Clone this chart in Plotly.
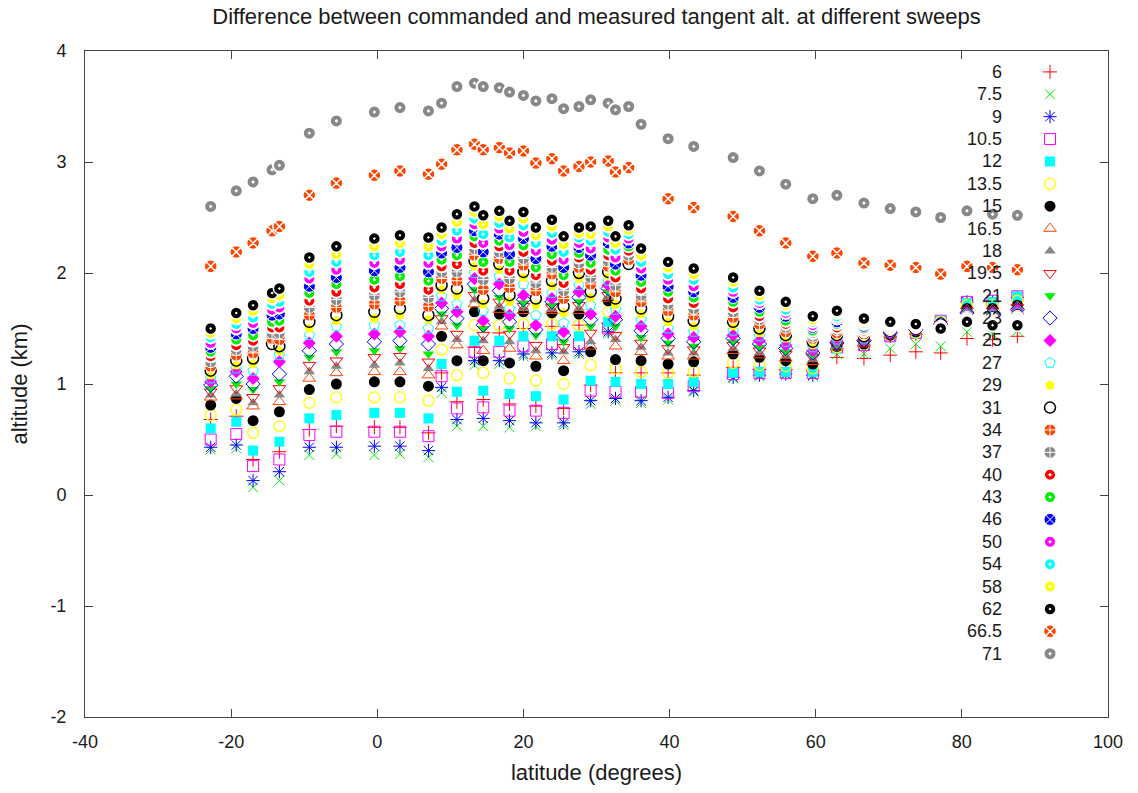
import plotly.graph_objects as go

lat = [-22.8, -19.3, -17.0, -14.4, -13.4, -9.3, -5.6, -0.4, 3.1, 7.0,
       8.8, 10.9, 13.3, 14.5, 16.7, 18.1, 20.0, 21.7, 23.9, 25.5,
       27.6, 29.2, 31.6, 32.6, 34.4, 36.1, 39.8, 43.3, 48.7, 52.3,
       55.9, 59.6, 62.9, 66.6, 70.2, 73.7, 77.1, 80.7, 84.2, 87.6]

x_tickvals = [-40, -20, 0, 20, 40, 60, 80, 100]
x_ticktext = ['-40', '-20', '0', '20', '40', '60', '80', '100']
y_tickvals = [-2, -1, 0, 1, 2, 3, 4]
y_ticktext = ['-2', '-1', '0', '1', '2', '3', '4']

N = None
s6 = [0.68,0.71,0.32,N,0.39,0.59,0.62,0.61,0.61,0.56,1.10,0.84,1.33,0.86,1.46,0.82,1.50,0.80,1.52,0.78,1.53,0.99,1.55,1.10,N,1.10,1.10,1.08,1.15,1.13,1.13,1.12,1.24,1.23,1.26,1.29,1.28,1.41,1.40,1.43]
s7_5 = [0.41,0.42,0.07,N,0.13,0.36,0.37,0.36,0.37,0.34,0.92,0.62,1.17,0.62,1.18,0.61,1.25,0.62,1.26,0.63,1.27,0.82,1.45,0.85,N,0.83,0.86,0.93,1.05,1.07,1.08,1.07,1.27,1.27,1.32,1.36,1.34,1.47,1.45,1.48]
s9 = [0.43,0.45,0.13,N,0.21,0.43,0.43,0.44,0.44,0.40,0.97,0.68,1.21,0.69,1.21,0.67,1.27,0.65,1.28,0.65,1.29,0.85,1.47,0.87,N,0.85,0.88,0.94,1.06,1.08,1.09,1.08,1.32,1.35,1.43,1.45,1.56,1.74,1.74,1.78]
s10_5 = [0.50,0.55,0.26,N,0.32,0.54,0.57,0.57,0.57,0.53,1.07,0.78,1.29,0.79,1.29,0.76,1.34,0.76,1.36,0.74,1.36,0.94,1.50,0.93,N,0.93,0.92,0.98,1.09,1.10,1.10,1.10,1.33,1.35,1.43,1.46,1.57,1.74,1.75,1.79]
s12 = [0.60,0.66,0.40,N,0.48,0.69,0.72,0.74,0.74,0.69,1.18,0.93,1.39,0.94,1.39,0.91,1.43,0.89,1.43,0.86,1.43,1.03,1.56,1.02,N,1.00,1.00,1.02,1.10,1.11,1.11,1.11,1.32,1.36,1.44,1.46,1.57,1.73,1.74,1.79]
s13_5 = [0.72,0.77,0.56,N,0.62,0.83,0.88,0.88,0.88,0.85,1.31,1.08,1.53,1.10,1.53,1.05,1.54,1.03,1.54,1.00,1.53,1.17,1.65,1.14,N,1.11,1.10,1.11,1.19,1.17,1.16,1.14,1.33,1.36,1.44,1.46,1.56,1.71,1.71,1.75]
s15 = [0.81,0.87,0.67,N,0.75,0.95,1.00,1.02,1.02,0.98,1.43,1.21,1.65,1.21,1.63,1.19,1.65,1.16,1.64,1.12,1.63,1.29,1.75,1.22,N,1.21,1.18,1.20,1.27,1.24,1.21,1.18,1.34,1.36,1.44,1.47,1.55,1.68,1.68,1.71]
s16_5 = [0.88,0.89,0.80,N,0.84,1.05,1.10,1.11,1.11,1.08,1.52,1.35,1.72,1.30,1.67,1.32,1.66,1.25,1.66,1.21,1.66,1.34,1.77,1.34,N,1.29,1.25,1.25,1.30,1.26,1.23,1.20,1.33,1.36,1.44,1.47,1.55,1.67,1.67,1.70]
s18 = [0.90,0.91,0.83,N,0.90,1.11,1.16,1.17,1.19,1.14,1.56,1.40,1.76,1.39,1.70,1.38,1.68,1.30,1.67,1.29,1.68,1.38,1.78,1.40,N,1.33,1.28,1.28,1.32,1.28,1.25,1.22,1.34,1.37,1.45,1.47,1.55,1.66,1.66,1.70]
s19_5 = [0.93,0.96,0.88,N,0.96,1.17,1.21,1.24,1.25,1.20,1.59,1.45,1.80,1.44,1.74,1.45,1.70,1.35,1.69,1.33,1.71,1.46,1.80,1.44,N,1.37,1.32,1.31,1.35,1.30,1.27,1.24,1.35,1.37,1.45,1.48,1.54,1.66,1.66,1.69]
s21 = [0.96,1.00,0.95,N,1.02,1.24,1.29,1.30,1.32,1.27,1.63,1.53,1.85,1.50,1.78,1.50,1.73,1.44,1.71,1.38,1.74,1.52,1.83,1.52,N,1.42,1.37,1.34,1.38,1.33,1.29,1.26,1.36,1.38,1.45,1.48,1.54,1.65,1.65,1.68]
s23 = [0.99,1.07,1.00,N,1.09,1.30,1.36,1.38,1.39,1.36,1.68,1.59,1.90,1.53,1.84,1.56,1.76,1.49,1.74,1.44,1.78,1.58,1.86,1.58,N,1.48,1.41,1.38,1.41,1.36,1.32,1.28,1.37,1.39,1.46,1.49,1.54,1.64,1.64,1.67]
s25 = [1.02,1.11,1.05,N,1.20,1.37,1.43,1.45,1.47,1.43,1.73,1.65,1.95,1.57,1.90,1.62,1.80,1.53,1.77,1.47,1.83,1.63,1.89,1.61,N,1.52,1.45,1.42,1.44,1.39,1.35,1.30,1.39,1.40,1.46,1.49,1.53,1.63,1.63,1.66]
s27 = [1.05,1.14,1.12,N,1.26,1.44,1.52,1.53,1.53,1.50,1.79,1.72,2.00,1.66,1.97,1.68,1.90,1.62,1.82,1.55,1.89,1.71,1.93,1.67,N,1.58,1.50,1.47,1.48,1.43,1.38,1.33,1.40,1.41,1.47,1.50,1.53,1.62,1.62,1.64]
s29 = [1.08,1.17,1.18,N,1.30,1.50,1.57,1.59,1.62,1.58,1.85,1.80,2.06,1.72,2.03,1.74,1.96,1.71,1.88,1.64,1.95,1.78,1.97,1.72,N,1.63,1.56,1.52,1.52,1.46,1.41,1.35,1.42,1.42,1.47,1.50,1.52,1.61,1.61,1.63]
s31 = [1.12,1.21,1.23,1.36,1.34,1.56,1.62,1.65,1.68,1.62,1.89,1.86,2.11,1.77,2.08,1.80,2.01,1.77,1.93,1.70,2.00,1.83,2.01,1.77,2.08,1.68,1.61,1.57,1.56,1.50,1.44,1.38,1.44,1.43,1.48,1.50,1.52,1.60,1.60,1.62]
s34 = [1.16,1.26,1.28,1.41,1.40,1.62,1.69,1.72,1.75,1.70,1.95,1.93,2.16,1.85,2.13,1.87,2.07,1.84,1.99,1.77,2.05,1.90,2.06,1.83,2.12,1.74,1.66,1.62,1.60,1.54,1.47,1.41,1.46,1.45,1.49,1.51,1.52,1.60,1.59,1.61]
s37 = [1.20,1.31,1.34,1.46,1.46,1.69,1.76,1.80,1.83,1.78,2.01,2.01,2.22,1.94,2.19,1.95,2.13,1.91,2.05,1.84,2.09,1.96,2.11,1.89,2.16,1.80,1.72,1.68,1.65,1.58,1.51,1.43,1.49,1.47,1.50,1.51,1.52,1.59,1.58,1.60]
s40 = [1.25,1.35,1.39,1.51,1.51,1.75,1.83,1.87,1.90,1.85,2.06,2.08,2.27,2.02,2.24,2.02,2.19,1.98,2.11,1.91,2.14,2.03,2.16,1.96,2.20,1.86,1.77,1.73,1.69,1.61,1.54,1.46,1.51,1.48,1.51,1.52,1.51,1.58,1.58,1.59]
s43 = [1.29,1.40,1.44,1.56,1.57,1.82,1.90,1.94,1.97,1.93,2.12,2.16,2.33,2.10,2.29,2.10,2.25,2.05,2.17,1.98,2.18,2.09,2.21,2.02,2.24,1.92,1.83,1.78,1.74,1.65,1.57,1.48,1.54,1.50,1.52,1.52,1.51,1.58,1.57,1.58]
s46 = [1.33,1.45,1.50,1.62,1.63,1.88,1.96,2.02,2.05,2.01,2.18,2.23,2.38,2.19,2.35,2.17,2.31,2.13,2.24,2.05,2.23,2.16,2.27,2.08,2.27,1.98,1.88,1.83,1.78,1.69,1.61,1.51,1.56,1.52,1.52,1.52,1.51,1.57,1.56,1.57]
s50 = [1.37,1.50,1.55,1.67,1.69,1.95,2.03,2.09,2.12,2.09,2.24,2.31,2.44,2.27,2.40,2.25,2.37,2.20,2.30,2.12,2.27,2.22,2.32,2.14,2.31,2.04,1.94,1.88,1.83,1.73,1.64,1.53,1.59,1.54,1.53,1.53,1.51,1.57,1.55,1.56]
s54 = [1.42,1.54,1.60,1.72,1.74,2.01,2.10,2.16,2.19,2.16,2.29,2.38,2.49,2.35,2.45,2.32,2.43,2.27,2.36,2.19,2.32,2.29,2.37,2.21,2.35,2.10,1.99,1.94,1.87,1.76,1.67,1.56,1.61,1.55,1.54,1.53,1.50,1.56,1.55,1.55]
s58 = [1.46,1.59,1.66,1.77,1.80,2.08,2.17,2.24,2.27,2.24,2.35,2.46,2.55,2.44,2.51,2.40,2.49,2.34,2.42,2.26,2.36,2.35,2.42,2.27,2.39,2.16,2.05,1.99,1.92,1.80,1.71,1.58,1.64,1.57,1.55,1.54,1.50,1.56,1.54,1.54]
s62 = [1.50,1.64,1.71,1.82,1.86,2.14,2.24,2.31,2.34,2.32,2.41,2.53,2.60,2.52,2.56,2.47,2.55,2.41,2.48,2.33,2.41,2.42,2.47,2.33,2.43,2.22,2.10,2.04,1.96,1.84,1.74,1.61,1.66,1.59,1.56,1.54,1.50,1.56,1.53,1.53]
s66_5 = [2.06,2.19,2.27,2.38,2.42,2.70,2.81,2.88,2.92,2.89,2.98,3.11,3.16,3.11,3.13,3.08,3.10,2.99,3.03,2.92,2.96,3.00,3.01,2.91,2.95,N,2.67,2.59,2.51,2.38,2.27,2.15,2.18,2.09,2.07,2.05,1.99,2.06,2.05,2.03]
s71 = [2.60,2.74,2.82,2.93,2.97,3.26,3.37,3.45,3.49,3.46,3.53,3.68,3.71,3.68,3.67,3.63,3.60,3.55,3.57,3.48,3.50,3.56,3.53,3.47,3.50,3.34,3.21,3.14,3.04,2.92,2.80,2.67,2.70,2.63,2.58,2.55,2.50,2.56,2.53,2.52]

names = ['6', '7.5', '9', '10.5', '12', '13.5', '15', '16.5', '18', '19.5', '21', '23', '25',
         '27', '29', '31', '34', '37', '40', '43', '46', '50', '54', '58', '62', '66.5', '71']
values = [s6, s7_5, s9, s10_5, s12, s13_5, s15, s16_5, s18, s19_5, s21, s23, s25,
          s27, s29, s31, s34, s37, s40, s43, s46, s50, s54, s58, s62, s66_5, s71]

RED, GRN, BLU, MAG, CYN, YEL, BLK, ORG, GRY = ('#ff0000', '#00ee00', '#0000ff', '#ff00ff',
                                               '#00ffff', '#ffff00', '#000000', '#ff4500', '#888888')
# (symbol, fill colour, line colour, line width, size)
styles = [
    ('cross-thin', RED, RED, 1, 10),
    ('x-thin', GRN, GRN, 1, 10),
    ('asterisk', BLU, BLU, 1, 11),
    ('square-open', MAG, MAG, 1, 11),
    ('square', CYN, CYN, 0, 10),
    ('circle-open', YEL, YEL, 1.3, 11),
    ('circle', BLK, BLK, 0, 11),
    ('triangle-up-open', ORG, ORG, 1, 11),
    ('triangle-up', GRY, GRY, 0, 10),
    ('triangle-down-open', RED, RED, 1, 11),
    ('triangle-down', GRN, GRN, 0, 10),
    ('diamond-open', BLU, BLU, 1, 11),
    ('diamond', MAG, MAG, 0, 10),
    ('pentagon-open', CYN, CYN, 1, 11),
    ('pentagon', YEL, YEL, 0, 10),
    ('circle-open', BLK, BLK, 1.5, 11),
    ('circle-cross', ORG, 'white', 1, 12),
    ('circle-cross', GRY, 'white', 1, 12),
    ('circle-dot', RED, 'white', 2, 12),
    ('circle-dot', GRN, 'white', 2, 12),
    ('circle-x', BLU, 'white', 1, 12),
    ('circle-dot', MAG, 'white', 2, 12),
    ('circle-dot', CYN, 'white', 2, 12),
    ('circle-dot', YEL, 'white', 2, 12),
    ('circle-dot', BLK, 'white', 1.5, 12),
    ('circle-x', ORG, 'white', 1.5, 13),
    ('circle-dot', GRY, 'white', 2, 13),
]


def mk(st):
    sym, fc, lc, lw, sz = st
    return dict(symbol=sym, size=sz, color=fc, line=dict(color=lc, width=lw))


fig = go.Figure()
for nm, vals, st in zip(names, values, styles):
    fig.add_trace(go.Scatter(x=lat, y=vals, mode='markers', name=nm, marker=mk(st),
                             showlegend=False, hoverinfo='skip'))

# gnuplot-style key: right-aligned labels followed by the symbol
key_top = 0.9686
key_step = 0.0336
annotations = []
for i, (nm, st) in enumerate(zip(names, styles)):
    yk = key_top - i * key_step
    fig.add_trace(go.Scatter(x=[0.9433], y=[yk], mode='markers', marker=mk(st),
                             xaxis='x2', yaxis='y2', showlegend=False, hoverinfo='skip'))
    annotations.append(dict(text=nm, x=0.898, y=yk, xref='paper', yref='paper',
                            xanchor='right', yanchor='middle', showarrow=False,
                            font=dict(size=18, color='#1a1a1a')))

FONT = 'Liberation Sans, Arial, sans-serif'
fig.update_layout(
    width=1138, height=793,
    margin=dict(l=85, r=30, t=51, b=74),
    paper_bgcolor='white', plot_bgcolor='white',
    font=dict(family=FONT, size=18, color='#1a1a1a'),
    title=dict(text='Difference between commanded and measured tangent alt. at different sweeps',
               xref='paper', x=0.5, xanchor='center', y=0.979, yanchor='middle',
               font=dict(size=22)),
    annotations=annotations,
    xaxis=dict(range=[-40, 100], tickmode='array', tickvals=x_tickvals, ticktext=x_ticktext,
               showgrid=False, zeroline=False,
               ticks='inside', ticklen=8, tickcolor='#444', showline=True, linecolor='#444',
               linewidth=1, mirror='ticks', ticklabelstandoff=8,
               title=dict(text='latitude (degrees)', standoff=14)),
    yaxis=dict(range=[-2, 4], tickmode='array', tickvals=y_tickvals, ticktext=y_ticktext,
               showgrid=False, zeroline=False,
               ticks='inside', ticklen=8, tickcolor='#444', showline=True, linecolor='#444',
               linewidth=1, mirror='ticks', ticklabelstandoff=14,
               title=dict(text='altitude (km)', standoff=16)),
    xaxis2=dict(range=[0, 1], overlaying='x', visible=False),
    yaxis2=dict(range=[0, 1], overlaying='y', visible=False),
)

fig.write_html('out.html')
